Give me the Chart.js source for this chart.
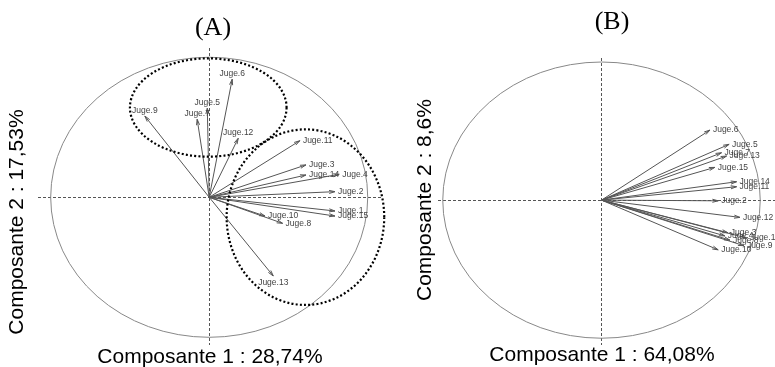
<!DOCTYPE html>
<html><head><meta charset="utf-8">
<script src="https://cdn.jsdelivr.net/npm/chart.js@4/dist/chart.umd.min.js"></script>
<style>
html,body{margin:0;padding:0;background:#fff;overflow:hidden}
#wrap{position:relative;width:775px;height:367px}
canvas{position:absolute;top:0}
</style></head><body>
<div id="wrap">
<canvas id="cA" width="400" height="367" style="left:0;width:400px;height:367px"></canvas>
<canvas id="cB" width="375" height="367" style="left:400px;width:375px;height:367px"></canvas>
</div>
<script>
// ---- data ----
const judges = ['Juge.1','Juge.2','Juge.3','Juge.4','Juge.5','Juge.6','Juge.7','Juge.8','Juge.9','Juge.10','Juge.11','Juge.12','Juge.13','Juge.14','Juge.15'];
const dimA1 = [0.793, 0.793, 0.610, 0.820, -0.012, 0.145, -0.076, 0.463, -0.406, 0.352, 0.572, 0.183, 0.404, 0.610, 0.793];
const dimA2 = [-0.098, 0.040, 0.231, 0.164, 0.636, 0.843, 0.557, -0.186, 0.580, -0.134, 0.404, 0.421, -0.562, 0.159, -0.134];
const dimB1 = [0.916, 0.735, 0.796, 0.777, 0.804, 0.683, 0.756, 0.809, 0.897, 0.735, 0.851, 0.872, 0.788, 0.851, 0.714];
const dimB2 = [-0.275, -0.005, -0.236, -0.259, 0.404, 0.507, 0.343, -0.290, -0.330, -0.360, 0.097, -0.125, 0.319, 0.133, 0.237];
const groupCxA = [-0.006, 0.607];
const groupCyA = [0.641, -0.142];
const groupRxA = [0.494, 0.497];
const groupRyA = [0.351, 0.627];
const varA = ['Composante 1 : 28,74%', 'Composante 2 : 17,53%'];
const varB = ['Composante 1 : 64,08%', 'Composante 2 : 8,6%'];

const pcaPlugin = {
  id: 'pca',
  beforeDatasetsDraw(chart, args, o) {
    const ctx = chart.ctx, xs = chart.scales.x, ys = chart.scales.y, ca = chart.chartArea;
    const x0 = xs.getPixelForValue(0), y0 = ys.getPixelForValue(0);
    ctx.save();
    ctx.strokeStyle = '#555'; ctx.lineWidth = 1; ctx.setLineDash([3, 2]);
    ctx.beginPath();
    ctx.moveTo(ca.left, Math.round(y0) + 0.5); ctx.lineTo(ca.right, Math.round(y0) + 0.5);
    ctx.moveTo(Math.round(x0) + 0.5, ca.top); ctx.lineTo(Math.round(x0) + 0.5, ca.bottom);
    ctx.stroke();
    ctx.setLineDash([]);
    ctx.strokeStyle = '#888';
    ctx.beginPath();
    ctx.ellipse(x0, y0, xs.getPixelForValue(1) - x0, y0 - ys.getPixelForValue(1), 0, 0, Math.PI * 2);
    ctx.stroke();
    ctx.restore();
  },
  afterDatasetsDraw(chart, args, o) {
    const ctx = chart.ctx, xs = chart.scales.x, ys = chart.scales.y;
    const x0 = xs.getPixelForValue(0), y0 = ys.getPixelForValue(0);
    const ds = chart.data.datasets[0];
    const pts = chart.getDatasetMeta(0).data;
    ctx.save();
    ctx.strokeStyle = '#555'; ctx.lineWidth = 1;
    pts.forEach((p) => {
      const ang = Math.atan2(p.y - y0, p.x - x0);
      ctx.beginPath();
      ctx.moveTo(x0, y0); ctx.lineTo(p.x, p.y);
      const L = 6, h = 15 * Math.PI / 180;
      ctx.moveTo(p.x - L * Math.cos(ang - h), p.y - L * Math.sin(ang - h));
      ctx.lineTo(p.x, p.y);
      ctx.lineTo(p.x - L * Math.cos(ang + h), p.y - L * Math.sin(ang + h));
      ctx.stroke();
    });
    ctx.fillStyle = '#444';
    ctx.font = '8.5px "Liberation Sans", Arial, sans-serif';
    pts.forEach((p, i) => {
      const v = ds.data[i];
      const lab = ds.labels[i];
      if (Math.abs(v.x) > Math.abs(v.y)) {
        ctx.textBaseline = 'middle';
        if (v.x >= 0) { ctx.textAlign = 'left'; ctx.fillText(lab, p.x + 3, p.y); }
        else { ctx.textAlign = 'right'; ctx.fillText(lab, p.x - 3, p.y); }
      } else {
        ctx.textAlign = 'center';
        if (v.y >= 0) { ctx.textBaseline = 'bottom'; ctx.fillText(lab, p.x, p.y - 1); }
        else { ctx.textBaseline = 'top'; ctx.fillText(lab, p.x, p.y + 2); }
      }
    });
    // group ellipses
    if (o.groups) {
      ctx.strokeStyle = '#000'; ctx.lineWidth = 2.2; ctx.setLineDash([2, 2.2]);
      o.groups.cx.forEach((cx, k) => {
        const px = xs.getPixelForValue(cx), py = ys.getPixelForValue(o.groups.cy[k]);
        const rx = xs.getPixelForValue(cx + o.groups.rx[k]) - px;
        const ry = py - ys.getPixelForValue(o.groups.cy[k] + o.groups.ry[k]);
        ctx.beginPath(); ctx.ellipse(px, py, rx, ry, 0, 0, Math.PI * 2); ctx.stroke();
      });
      ctx.setLineDash([]);
    }
    // texts
    ctx.fillStyle = '#000';
    ctx.textAlign = 'center'; ctx.textBaseline = 'middle';
    ctx.font = '26px "Liberation Serif", "Times New Roman", serif';
    ctx.fillText(o.title, o.titleX, o.titleY);
    ctx.font = '21px "Liberation Sans", Arial, sans-serif';
    ctx.fillText(o.xTitle, o.xTitleX, o.xTitleY);
    ctx.translate(o.yTitleX, o.yTitleY); ctx.rotate(-Math.PI / 2);
    ctx.fillText(o.yTitle, 0, 0);
    ctx.restore();
  }
};

function makeChart(id, d1, d2, xmin, xmax, ymin, ymax, pad, extra) {
  return new Chart(document.getElementById(id), {
    type: 'scatter',
    data: { datasets: [{ labels: judges, data: judges.map((j, i) => ({ x: d1[i], y: d2[i] })), pointRadius: 0, pointHoverRadius: 0 }] },
    options: {
      responsive: false, animation: false, devicePixelRatio: 1,
      layout: { padding: pad },
      scales: {
        x: { type: 'linear', min: xmin, max: xmax, display: false },
        y: { type: 'linear', min: ymin, max: ymax, display: false }
      },
      plugins: { legend: { display: false }, tooltip: { enabled: false }, pca: extra }
    },
    plugins: [pcaPlugin]
  });
}

makeChart('cA', dimA1, dimA2, -1.08, 1.09, -1.055, 1.066,
  { left: 38, right: 18, top: 48, bottom: 22 },
  { title: '(A)', titleX: 213, titleY: 28, xTitle: varA[0], xTitleX: 210, xTitleY: 357, yTitle: varA[1], yTitleX: 17, yTitleY: 222,
    groups: { cx: groupCxA, cy: groupCyA, rx: groupRxA, ry: groupRyA } });

makeChart('cB', dimB1, dimB2, -1.03, 1.093, -1.049, 1.029,
  { left: 38, right: 0, top: 58, bottom: 22 },
  { title: '(B)', titleX: 212, titleY: 22, xTitle: varB[0], xTitleX: 202, xTitleY: 355, yTitle: varB[1], yTitleX: 25, yTitleY: 200 });
</script>
</body></html>
